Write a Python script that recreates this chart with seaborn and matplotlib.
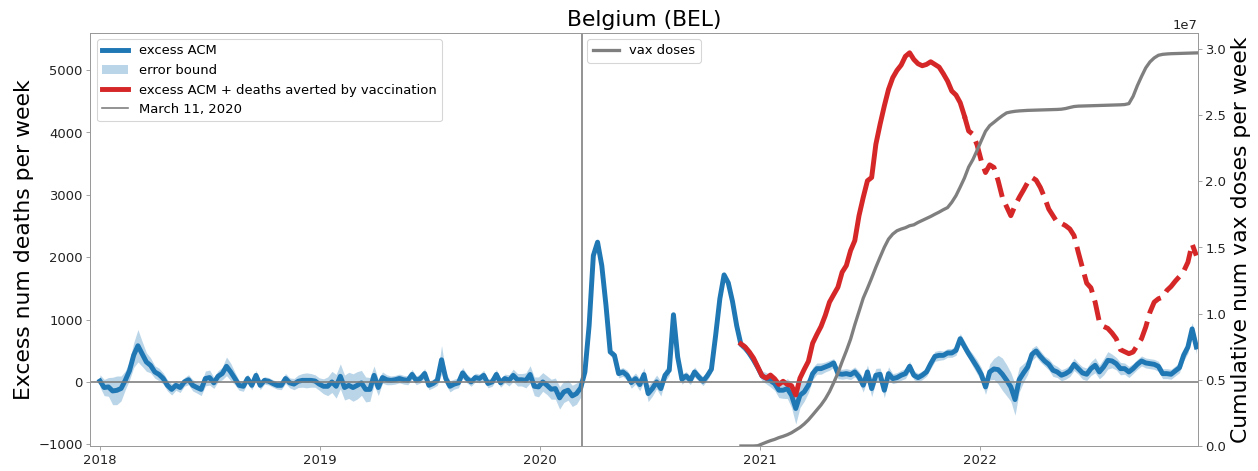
import matplotlib
matplotlib.use("Agg")
import matplotlib.pyplot as plt
import matplotlib.dates as mdates
from matplotlib.lines import Line2D
from matplotlib.patches import Patch
import seaborn as sns
import numpy as np
import pandas as pd

# weekly series, first week starts 2018-01-01
week_start = "2018-01-01"
vax_start_week = 152      # index where vaccination / averted series begin
dashed_from_week = 205    # averted-deaths curve is dashed from here on
march_11 = "2020-03-11"

excess_acm = [
    15, -90, -80, -145, -135, -105, 25, 180, 430, 580,
    450, 320, 265, 160, 120, 55, -55, -120, -55, -90,
    0, 35, -55, -90, -120, 55, 70, -15, 90, 135,
    250, 160, 55, -55, -70, 55, -55, 105, -55, 25,
    10, -25, -55, -55, 55, -15, -35, 10, 25, 25,
    25, 15, -35,
    -70, -70, 0, -70, 90, -90, -55,
    -90, -55, -15, -120, -120, 105, -90, 70, 35, 25,
    35, 55, 35, 25, 120, 25, 55, 135, -55, -25,
    25, 355, 55, -70, -35, -15, 145, 55, 0, 70,
    55, 105, -25, 0, 120, -15, 55, 25, 105, 35,
    35, 25, 120, -70,
    -80, 0, -53, -117, -107, -256, -160, -133, -224, -187,
    -96, 160, 906, 2025, 2240, 1866, 1226, 480, 426, 133,
    160, 107, -11, 53, -43, 117, -187, -107, 0, -107,
    107, 187, 1077, 400, 43, 96, 27, 160, 80, 11,
    96, 203, 746, 1333, 1716, 1588, 1290, 900,
    600, 545, 455, 350, 230, 95, 60, 20,
    -27, -133, -133, -107, -213, -426, -213, -160, -53, 133,
    213, 213, 240, 267, 304, 133, 123, 133, 117, 160,
    80, -53, 160, -107, 107, 123, -133, 133, 53, 69,
    107, 133, 250, 107, 69, 107, 160, 293, 410, 426,
    426, 464, 464, 506, 693, 570, 453, 346, 240, 120,
    -80, 160, 208, 197, 123, 27, -80, -283, 37, 144,
    240, 442, 496, 410, 336, 282, 187, 160, 107, 133,
    176, 282, 213, 144, 123, 213, 267, 160, 240, 346,
    336, 293, 213, 213, 160, 213, 282, 336, 304, 293,
    282, 250, 133, 133, 123, 176, 229, 430, 560, 850, 560,
]

error_half_width = [
    100, 130, 150, 220, 230, 200, 150, 150, 200, 260,
    200, 150, 120, 100, 100, 90, 90, 90, 80, 80,
    70, 80, 90, 90, 100, 120, 120, 90, 90, 100,
    150, 140, 100, 80, 80, 70, 70, 80, 70, 60,
    60, 60, 60, 70, 80, 80, 90, 100, 110, 120,
    110, 100, 100,
    120, 150, 170, 190, 200, 200, 210,
    220, 220, 200, 200, 190, 150, 130, 90, 80, 70,
    70, 70, 70, 70, 80, 70, 70, 80, 70, 70,
    80, 230, 100, 90, 80, 80, 90, 70, 70, 70,
    70, 80, 70, 70, 80, 70, 70, 90, 100, 100,
    100, 120, 140, 150,
    160, 150, 150, 160, 170, 180, 170, 160, 170, 170,
    150, 80, 60, 60, 60, 60, 60, 60, 60, 70,
    70, 80, 90, 90, 100, 110, 130, 120, 110, 120,
    100, 80, 60, 60, 80, 70, 70, 80, 70, 70,
    70, 60, 60, 60, 60, 60, 60, 60,
    60, 70, 70, 80, 80, 80, 90, 100,
    110, 120, 130, 160, 200, 250, 200, 150, 120, 100,
    90, 90, 80, 80, 70, 80, 80, 80, 80, 80,
    90, 110, 110, 130, 110, 100, 120, 110, 80, 80,
    80, 80, 80, 70, 70, 70, 70, 80, 80, 80,
    70, 70, 70, 80, 80, 90, 80, 100, 110, 110,
    120, 130, 170, 230, 260, 250, 230, 250, 200, 150,
    120, 100, 90, 90, 80, 90, 100, 90, 90, 90,
    90, 100, 90, 100, 100, 110, 120, 110, 130, 140,
    110, 100, 100, 90, 90, 80, 80, 80, 80, 80,
    80, 80, 80, 80, 80, 80, 80, 90, 100, 100, 110,
]

# excess ACM + deaths averted by vaccination (from week 152)
acm_plus_averted = [
    610, 560, 480, 380, 240, 100, 60, 110,
    50, -40, 10, -40, -60, -210, 60, 200, 330, 620,
    760, 890, 1066, 1279, 1400, 1519, 1759, 1866, 2105, 2265,
    2665, 2958, 3225, 3278, 3811, 4131, 4424, 4690, 4877, 4994,
    5080, 5220, 5277, 5170, 5101, 5069, 5090, 5133, 5090, 5047,
    4941, 4824, 4664, 4600, 4477, 4264, 4024, 3971, 3800, 3544,
    3357, 3480, 3438, 3225, 2958, 2809, 2665, 2825, 2958, 3075,
    3198, 3278, 3235, 3118, 2958, 2772, 2665, 2558, 2542, 2505,
    2452, 2345, 2079, 1828, 1583, 1508, 1279, 959, 890, 858,
    784, 693, 517, 485, 453, 480, 586, 693, 880, 1119,
    1279, 1333, 1359, 1466, 1530, 1615, 1690, 1775, 1919, 2212, 2025,
]

# cumulative vaccine doses, in units of 1e7 (from week 152)
vax_doses_1e7 = [
    0.0, 0.0, 0.0, 0.0, 0.002, 0.015, 0.028, 0.04,
    0.05, 0.063, 0.073, 0.085, 0.10, 0.12, 0.14, 0.166, 0.197, 0.234,
    0.272, 0.31, 0.355, 0.41, 0.478, 0.55, 0.637, 0.718, 0.806, 0.915,
    1.015, 1.116, 1.19, 1.268, 1.35, 1.426, 1.50, 1.562, 1.60, 1.625,
    1.638, 1.648, 1.663, 1.67, 1.688, 1.703, 1.718, 1.733, 1.75, 1.766,
    1.784, 1.80, 1.84, 1.89, 1.955, 2.023, 2.106, 2.162, 2.232, 2.305,
    2.376, 2.419, 2.444, 2.47, 2.494, 2.515, 2.522, 2.527, 2.53, 2.532,
    2.534, 2.535, 2.536, 2.537, 2.538, 2.539, 2.54, 2.541, 2.543, 2.548,
    2.556, 2.563, 2.566, 2.567, 2.568, 2.569, 2.57, 2.571, 2.572, 2.573,
    2.574, 2.575, 2.576, 2.578, 2.585, 2.64, 2.72, 2.79, 2.855, 2.90,
    2.93, 2.95, 2.957, 2.96, 2.962, 2.963, 2.964, 2.965, 2.966, 2.967, 2.968,
]

BLUE = "#1f77b4"
RED = "#d62728"
GRAY = "#7f7f7f"
LW = 4.5

dates = pd.date_range(week_start, periods=len(excess_acm), freq="7D")
blue_df = pd.DataFrame({"date": dates, "excess": excess_acm})
lower = np.array(excess_acm) - np.array(error_half_width)
upper = np.array(excess_acm) + np.array(error_half_width)

late_dates = dates[vax_start_week:]
red_df = pd.DataFrame({"date": late_dates, "value": acm_plus_averted})
cut = dashed_from_week - vax_start_week
red_solid = red_df.iloc[: cut + 1]
red_dashed = red_df.iloc[cut:]
vax_df = pd.DataFrame({"date": late_dates, "doses": np.array(vax_doses_1e7) * 1e7})

plt.rcParams["xtick.labelsize"] = 12
plt.rcParams["ytick.labelsize"] = 12
plt.rcParams["axes.edgecolor"] = "#999999"
plt.rcParams["xtick.color"] = "#999999"
plt.rcParams["ytick.color"] = "#999999"
plt.rcParams["xtick.labelcolor"] = "#222222"
plt.rcParams["ytick.labelcolor"] = "#222222"

dpi = 78.625
fig = plt.figure(figsize=(1258.2 / dpi, 471.2 / dpi), dpi=dpi)
ax = fig.add_axes([0.0718, 0.0531, 0.88, 0.8775])

ax.fill_between(dates, lower, upper, color=BLUE, alpha=0.3, lw=0)
sns.lineplot(data=blue_df, x="date", y="excess", ax=ax, color=BLUE, lw=LW)
sns.lineplot(data=red_solid, x="date", y="value", ax=ax, color=RED, lw=LW)
red_line = sns.lineplot(data=red_dashed, x="date", y="value", ax=ax, color=RED, lw=LW)
red_line.lines[-1].set_dashes((4.1, 1.7))
ax.axhline(0, color=GRAY, lw=1.5)
ax.axvline(pd.Timestamp(march_11), color=GRAY, lw=1.5)

ax.set_xlim(pd.Timestamp("2017-12-16"), pd.Timestamp("2022-12-28"))
ax.set_ylim(-1027, 5602)
ax.xaxis.set_major_locator(mdates.YearLocator())
ax.xaxis.set_major_formatter(mdates.DateFormatter("%Y"))
ax.set_xlabel("")
ax.set_ylabel("Excess num deaths per week", fontsize=20)
ax.set_title("Belgium (BEL)", fontsize=20)

ax2 = ax.twinx()
sns.lineplot(data=vax_df, x="date", y="doses", ax=ax2, color=GRAY, lw=3)
ax2.set_ylim(0, 3.122e7)
ax2.set_xlim(pd.Timestamp("2017-12-16"), pd.Timestamp("2022-12-28"))
ax2.set_xlabel("")
ax2.set_ylabel("Cumulative num vax doses per week", fontsize=20)

handles = [
    Line2D([], [], color=BLUE, lw=LW, label="excess ACM"),
    Patch(facecolor=BLUE, alpha=0.3, label="error bound"),
    Line2D([], [], color=RED, lw=LW, label="excess ACM + deaths averted by vaccination"),
    Line2D([], [], color=GRAY, lw=1.5, label="March 11, 2020"),
]
ax.legend(handles=handles, loc="upper left", fontsize=12)
ax2.legend(handles=[Line2D([], [], color=GRAY, lw=3, label="vax doses")],
           loc="upper center", fontsize=12)

fig.savefig("out.png", dpi=dpi)
